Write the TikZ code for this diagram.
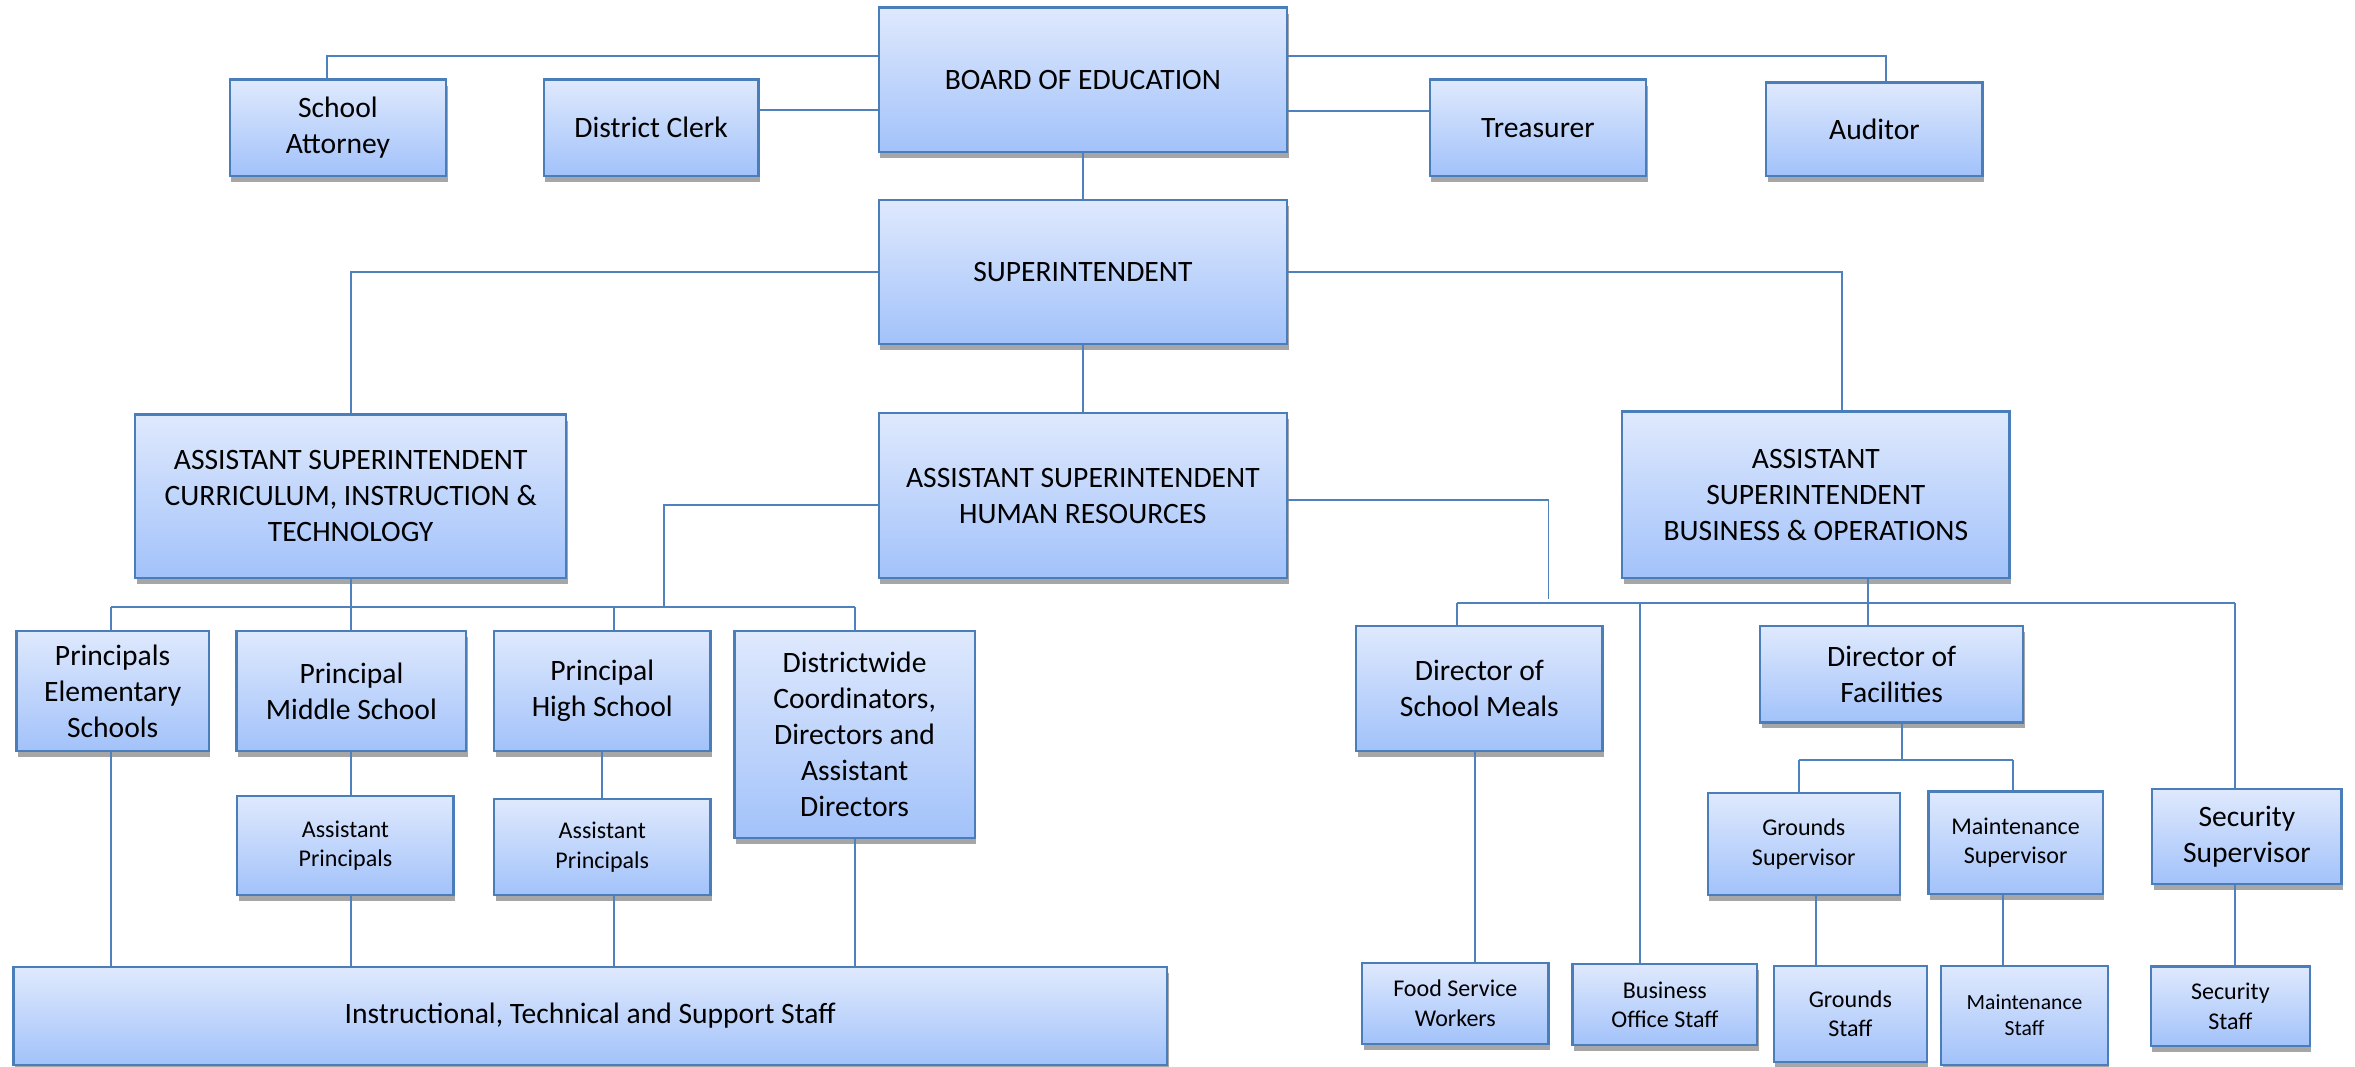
\documentclass[tikz,border=0pt]{standalone}
\usepackage{fontspec}
\setmainfont{Carlito}
\usetikzlibrary{shadows}
\definecolor{boxtop}{HTML}{DFE9FD}
\definecolor{boxbot}{HTML}{A2C2FA}
\definecolor{boxline}{HTML}{4A7EBB}
\definecolor{connc}{HTML}{4F81BD}
\tikzset{
  orgbox/.style={draw=boxline, line width=1.5pt, top color=boxtop, bottom color=boxbot,
    align=center, inner sep=0pt, font=\fontsize{19.7}{24}\selectfont,
    drop shadow={shadow xshift=1pt, shadow yshift=-4pt, opacity=0.35, fill=black}},
  smallbox/.style={orgbox, font=\fontsize{16}{19.5}\selectfont},
  tinybox/.style={orgbox, font=\fontsize{14.4}{17.5}\selectfont},
  conn/.style={draw=connc, line width=1.3pt}
}
\begin{document}
\begin{tikzpicture}[x=1pt,y=-1pt]
\useasboundingbox (0,0) rectangle (1568,710);
% top row
\node[orgbox, minimum width=272pt, minimum height=96pt] (board) at (721,53) {BOARD OF EDUCATION};
\node[orgbox, minimum width=144pt, minimum height=64pt] (attorney) at (225,85) {School\\Attorney};
\node[orgbox, minimum width=143pt, minimum height=64pt] (clerk) at (433.5,85) {District Clerk};
\node[orgbox, minimum width=144pt, minimum height=64pt] (treasurer) at (1024,85) {Treasurer};
\node[orgbox, minimum width=144pt, minimum height=62pt] (auditor) at (1248,86) {Auditor};
\node[orgbox, minimum width=272pt, minimum height=96pt] (super) at (721,181) {SUPERINTENDENT};
% assistant superintendents
\node[orgbox, minimum width=287pt, minimum height=109pt] (ascit) at (233.5,330.5) {ASSISTANT SUPERINTENDENT\\CURRICULUM, INSTRUCTION \&\\TECHNOLOGY};
\node[orgbox, minimum width=272pt, minimum height=110pt] (ashr) at (721,330) {ASSISTANT SUPERINTENDENT\\HUMAN RESOURCES};
\node[orgbox, minimum width=258pt, minimum height=111pt] (asbo) at (1209,329.5) {ASSISTANT\\SUPERINTENDENT\\BUSINESS \& OPERATIONS};
% left branch
\node[orgbox, minimum width=128pt, minimum height=80pt] (elem) at (75,460) {Principals\\Elementary\\Schools};
\node[orgbox, minimum width=153pt, minimum height=80pt] (pms) at (234,460) {Principal\\Middle School};
\node[orgbox, minimum width=144pt, minimum height=80pt] (phs) at (401,460) {Principal\\High School};
\node[orgbox, minimum width=160pt, minimum height=138pt] (dw) at (569,489) {Districtwide\\Coordinators,\\Directors and\\Assistant\\Directors};
\node[smallbox, minimum width=144pt, minimum height=66pt] (apm) at (230,563) {Assistant\\Principals};
\node[smallbox, minimum width=144pt, minimum height=64pt] (aph) at (401,564) {Assistant\\Principals};
\node[orgbox, minimum width=768pt, minimum height=65pt] (staff) at (393,676.5) {Instructional, Technical and Support Staff};
% right branch
\node[orgbox, minimum width=164pt, minimum height=83pt] (meals) at (985,458.5) {Director of\\School Meals};
\node[orgbox, minimum width=175pt, minimum height=64pt] (fac) at (1259.5,449) {Director of\\Facilities};
\node[smallbox, minimum width=128pt, minimum height=68pt] (gsup) at (1201,562) {Grounds\\Supervisor};
\node[smallbox, minimum width=116pt, minimum height=68pt] (msup) at (1342,561) {Maintenance\\Supervisor};
\node[orgbox, minimum width=126pt, minimum height=63pt] (ssup) at (1496,557) {Security\\Supervisor};
\node[smallbox, minimum width=124pt, minimum height=54pt] (food) at (969,668) {Food Service\\Workers};
\node[smallbox, minimum width=123pt, minimum height=54pt] (bos) at (1108.5,669) {Business\\Office Staff};
\node[smallbox, minimum width=102pt, minimum height=64pt] (gstaff) at (1232,675) {Grounds\\Staff};
\node[tinybox, minimum width=111pt, minimum height=66pt] (mstaff) at (1348,676) {Maintenance\\Staff};
\node[smallbox, minimum width=106pt, minimum height=53pt] (sstaff) at (1485,670) {Security\\Staff};
% junction coordinates
\coordinate (cb) at (0,404);
\coordinate (hrj) at (442,404);
\coordinate (bb) at (0,401.5);
\coordinate (hrr) at (1031,399);
\coordinate (fb) at (0,506);
% connectors: top
\draw[conn] ([yshift=16pt]board.west) -| ([xshift=-7pt]attorney.north);
\draw[conn] ([yshift=16pt]board.east) -| ([xshift=8pt]auditor.north);
\draw[conn] ([yshift=12pt]clerk.east) -- ([yshift=12pt]clerk.east -| board.west);
\draw[conn] ([yshift=11pt]treasurer.west) -- ([yshift=11pt]treasurer.west -| board.east);
\draw[conn] (board.south) -- (super.north);
\draw[conn] (super.west) -| (ascit.north);
\draw[conn] (super.east) -| ([xshift=17.6pt]asbo.north);
\draw[conn] (super.south) -- (ashr.north);
% left branch
\draw[conn] (ascit.south) -- (ascit.south |- cb);
\draw[conn] ([xshift=-1pt]elem.north |- cb) -- (dw.north |- cb);
\draw[conn] ([xshift=-1pt]elem.north) -- ([xshift=-1pt]elem.north |- cb);
\draw[conn] (pms.north) -- (pms.north |- cb);
\draw[conn] ([xshift=8pt]phs.north) -- ([xshift=8pt]phs.north |- cb);
\draw[conn] (dw.north) -- (dw.north |- cb);
\draw[conn] ([yshift=-6pt]ashr.west) -| (hrj);
\draw[conn] (pms.south) -- (pms.south |- apm.north);
\draw[conn] (phs.south) -- (aph.north);
\draw[conn] ([xshift=-1pt]elem.south) -- ([xshift=-1pt]elem.south |- staff.north);
\draw[conn] ([xshift=3.5pt]apm.south) -- ([xshift=3.5pt]apm.south |- staff.north);
\draw[conn] ([xshift=8pt]aph.south) -- ([xshift=8pt]aph.south |- staff.north);
\draw[conn] (dw.south) -- (dw.south |- staff.north);
% right branch
\draw[conn] ([yshift=-3pt]ashr.east) -| (hrr);
\draw[conn] ([xshift=-15pt]meals.north |- bb) -- ([xshift=-8pt]ssup.north |- bb);
\draw[conn] ([xshift=35pt]asbo.south) -- ([xshift=35pt]asbo.south |- fac.north);
\draw[conn] ([xshift=-15pt]meals.north) -- ([xshift=-15pt]meals.north |- bb);
\draw[conn] ([xshift=-16.5pt]bos.north |- bb) -- ([xshift=-16.5pt]bos.north);
\draw[conn] ([xshift=-8pt]ssup.north |- bb) -- ([xshift=-8pt]ssup.north);
\draw[conn] ([xshift=7pt]fac.south) -- ([xshift=7pt]fac.south |- fb);
\draw[conn] ([xshift=-3pt]gsup.north |- fb) -- ([xshift=-2pt]msup.north |- fb);
\draw[conn] ([xshift=-3pt]gsup.north |- fb) -- ([xshift=-3pt]gsup.north);
\draw[conn] ([xshift=-2pt]msup.north |- fb) -- ([xshift=-2pt]msup.north);
\draw[conn] ([xshift=-3pt]meals.south) -- ([xshift=-3pt]meals.south |- food.north);
\draw[conn] ([xshift=8pt]gsup.south) -- ([xshift=8pt]gsup.south |- gstaff.north);
\draw[conn] ([xshift=-8.5pt]msup.south) -- ([xshift=-8.5pt]msup.south |- mstaff.north);
\draw[conn] ([xshift=-8pt]ssup.south) -- ([xshift=-8pt]ssup.south |- sstaff.north);
\end{tikzpicture}
\end{document}
